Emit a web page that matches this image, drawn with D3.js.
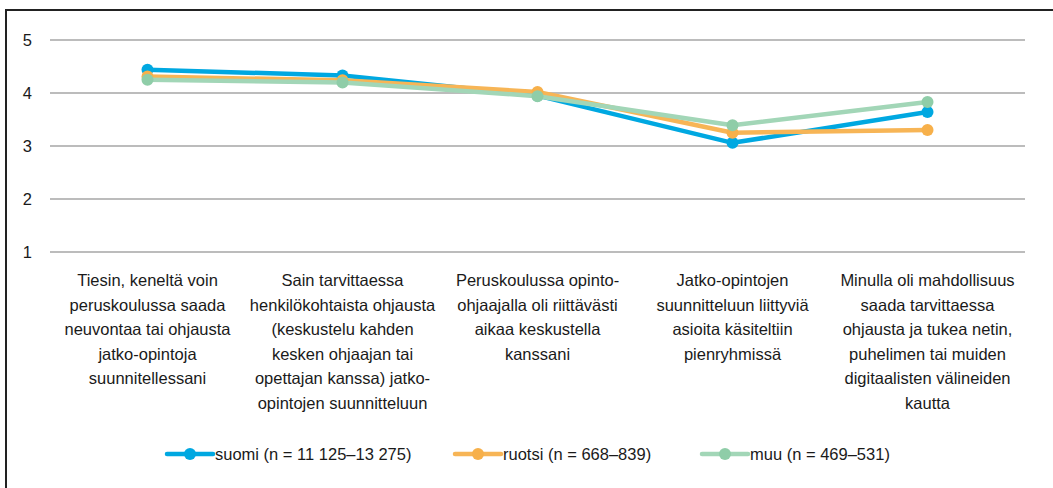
<!DOCTYPE html>
<html>
<head>
<meta charset="utf-8">
<script src="https://cdn.jsdelivr.net/npm/d3@7"></script>
<style>
  body { margin: 0; background: #fff; }
  text { font-family: "Liberation Sans", Arial, sans-serif; fill: #1a1a1a; }
</style>
</head>
<body>
<svg width="1053" height="488"></svg>
<script>
var categories = [
    ["Tiesin, keneltä voin", "peruskoulussa saada", "neuvontaa tai ohjausta", "jatko-opintoja", "suunnitellessani"],
    ["Sain tarvittaessa", "henkilökohtaista ohjausta", "(keskustelu kahden", "kesken ohjaajan tai", "opettajan kanssa) jatko-", "opintojen suunnitteluun"],
    ["Peruskoulussa opinto-", "ohjaajalla oli riittävästi", "aikaa keskustella", "kanssani"],
    ["Jatko-opintojen", "suunnitteluun liittyviä", "asioita käsiteltiin", "pienryhmissä"],
    ["Minulla oli mahdollisuus", "saada tarvittaessa", "ohjausta ja tukea netin,", "puhelimen tai muiden", "digitaalisten välineiden", "kautta"]
]
var suomi = [4.44, 4.33, 3.95, 3.06, 3.64]
var ruotsi = [4.31, 4.24, 4.02, 3.25, 3.30]
var muu = [4.25, 4.20, 3.94, 3.39, 3.83]
var seriesNames = ["suomi (n = 11 125–13 275)", "ruotsi (n = 668–839)", "muu (n = 469–531)"]
var yTicks = [1, 2, 3, 4, 5]

var colors = ["#00a8e1", "#f7b556", "#a2d6b7"]
var markerColors = ["#00a8e1", "#f7b04a", "#8fcda8"]

var svg = d3.select("svg")

// frame
svg.append("rect")
    .attr("x", 6).attr("y", 10)
    .attr("width", 1100).attr("height", 500)
    .attr("fill", "none")
    .attr("stroke", "#222")
    .attr("stroke-width", 2)

var xScale = d3.scaleBand().domain(d3.range(categories.length)).range([50, 1025])
var yScale = d3.scaleLinear().domain([1, 5]).range([252, 40])

// grid
svg.append("g").selectAll("line")
    .data(yTicks)
    .enter()
    .append("line")
    .attr("x1", 50).attr("x2", 1025)
    .attr("y1", d => yScale(d)).attr("y2", d => yScale(d))
    .attr("stroke", "#a6a6a6")
    .attr("stroke-width", 1.5)

var yAxis = d3.axisLeft(yScale).tickValues(yTicks).tickFormat(d3.format("d")).tickSize(0).tickPadding(0)
svg.append("g")
    .attr("transform", "translate(32,0)")
    .call(yAxis)
    .call(g => g.select(".domain").remove())
    .selectAll("text")
    .style("font-family", "Liberation Sans, Arial, sans-serif")
    .style("font-size", "16.5px")
    .attr("fill", "#1a1a1a")

// category labels
svg.append("g").selectAll("text")
    .data(categories)
    .enter()
    .append("text")
    .attr("text-anchor", "middle")
    .attr("font-size", "16.5px")
    .attr("transform", (d, i) => "translate(" + (xScale(i) + xScale.bandwidth() / 2) + ",286)")
    .selectAll("tspan")
    .data(d => d)
    .enter()
    .append("tspan")
    .attr("x", 0)
    .attr("y", (d, i) => i * 24.6)
    .text(d => d)

var line = d3.line()
    .x((d, i) => xScale(i) + xScale.bandwidth() / 2)
    .y(d => yScale(d))

var allSeries = [suomi, ruotsi, muu]
allSeries.forEach((s, k) => {
    var g = svg.append("g")
    g.append("path")
        .attr("d", line(s))
        .attr("fill", "none")
        .attr("stroke", colors[k])
        .attr("stroke-width", 4.5)
        .attr("stroke-linejoin", "round")
    g.selectAll("circle")
        .data(s)
        .enter()
        .append("circle")
        .attr("cx", (d, i) => xScale(i) + xScale.bandwidth() / 2)
        .attr("cy", d => yScale(d))
        .attr("r", 6)
        .attr("fill", markerColors[k])
})

// legend
var legendX = [167, 455, 702]
var legend = svg.append("g").attr("transform", "translate(0,454)")
seriesNames.forEach((name, k) => {
    var lg = legend.append("g").attr("transform", "translate(" + legendX[k] + ",0)")
    lg.append("line")
        .attr("x1", 0).attr("x2", 46)
        .attr("stroke", colors[k])
        .attr("stroke-width", 4.5)
        .attr("stroke-linecap", "round")
    lg.append("circle")
        .attr("cx", 23).attr("r", 6)
        .attr("fill", markerColors[k])
    lg.append("text")
        .attr("x", 48).attr("y", 6)
        .attr("font-size", "16.5px")
        .text(name)
})
</script>
</body>
</html>
